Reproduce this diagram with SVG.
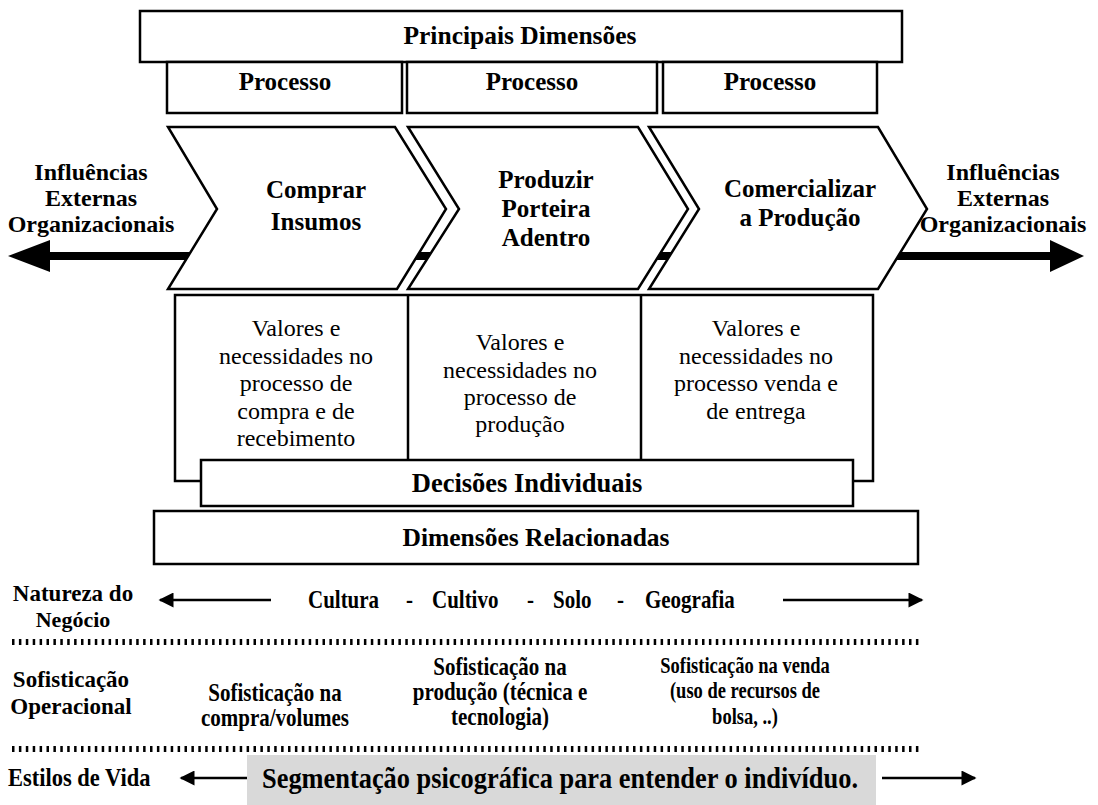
<svg xmlns="http://www.w3.org/2000/svg" width="1098" height="805" viewBox="0 0 1098 805">
<defs>
<style>
.box{fill:#fff;stroke:#000;stroke-width:2.5}
.hb{font-family:"Liberation Serif","Times New Roman",serif;font-weight:bold;fill:#000;text-anchor:middle}
.rg{font-family:"Liberation Serif","Times New Roman",serif;fill:#000;text-anchor:middle;font-size:24px}
.dot{stroke:#000;stroke-width:6;stroke-dasharray:2.5 4.4;fill:none}
.thin{stroke:#000;stroke-width:2.5;fill:none}
</style>
<marker id="ah" viewBox="0 0 10 10" refX="9" refY="5" markerWidth="7" markerHeight="6" orient="auto" markerUnits="strokeWidth">
<path d="M0,0 L10,5 L0,10 Z" fill="#000"/>
</marker>
</defs>
<rect width="1098" height="805" fill="#fff"/>

<g id="connectors">
<rect x="45" y="252" width="1010" height="8" fill="#000"/>
<path d="M50,240 L8,256 L50,272 Z" fill="#000"/>
<path d="M1050,240 L1084,256 L1050,272 Z" fill="#000"/>
<line class="thin" x1="271" y1="600" x2="160" y2="600" marker-end="url(#ah)"/>
<line class="thin" x1="783" y1="600" x2="922" y2="600" marker-end="url(#ah)"/>
<line class="thin" x1="248" y1="778" x2="181" y2="778" marker-end="url(#ah)"/>
<line class="thin" x1="882" y1="778" x2="975" y2="778" marker-end="url(#ah)"/>
</g>

<g id="principais">
<rect class="box" x="140" y="11" width="762" height="51"/>
<text class="hb" x="520" y="44" font-size="25.5">Principais Dimensões</text>
</g>
<g id="processo1">
<rect class="box" x="167" y="62" width="235" height="51"/>
<text class="hb" x="285" y="90" font-size="25">Processo</text>
</g>
<g id="processo2">
<rect class="box" x="407" y="62" width="250" height="51"/>
<text class="hb" x="532" y="90" font-size="25">Processo</text>
</g>
<g id="processo3">
<rect class="box" x="663" y="62" width="214" height="51"/>
<text class="hb" x="770" y="90" font-size="25">Processo</text>
</g>

<g id="chevron1">
<path class="box" d="M168,127 L395,127 L446,209 L397,289 L168,289 L217,209 Z"/>
<text class="hb" x="316" y="198" font-size="25">Comprar</text>
<text class="hb" x="316" y="230" font-size="25">Insumos</text>
</g>
<g id="chevron2">
<path class="box" d="M408,127 L638,127 L688,209 L638,289 L408,289 L459,209 Z"/>
<text class="hb" x="546" y="188" font-size="25">Produzir</text>
<text class="hb" x="546" y="217" font-size="25">Porteira</text>
<text class="hb" x="546" y="246" font-size="25">Adentro</text>
</g>
<g id="chevron3">
<path class="box" d="M649,127 L878,127 L927,209 L878,289 L649,289 L699,209 Z"/>
<text class="hb" x="800" y="197" font-size="25">Comercializar</text>
<text class="hb" x="800" y="226" font-size="25">a Produção</text>
</g>

<g id="influencias-esq">
<text class="hb" x="91" y="180" font-size="24">Influências</text>
<text class="hb" x="91" y="206" font-size="24">Externas</text>
<text class="hb" x="91" y="232" font-size="24">Organizacionais</text>
</g>
<g id="influencias-dir">
<text class="hb" x="1003" y="180" font-size="24">Influências</text>
<text class="hb" x="1003" y="206" font-size="24">Externas</text>
<text class="hb" x="1003" y="232" font-size="24">Organizacionais</text>
</g>

<g id="valores">
<rect class="box" x="175" y="295" width="698" height="186"/>
<line class="thin" x1="408" y1="295" x2="408" y2="462"/>
<line class="thin" x1="641" y1="295" x2="641" y2="462"/>
<text class="rg" x="296" y="336">Valores e</text>
<text class="rg" x="296" y="364">necessidades no</text>
<text class="rg" x="296" y="391">processo de</text>
<text class="rg" x="296" y="419">compra e de</text>
<text class="rg" x="296" y="446">recebimento</text>
<text class="rg" x="520" y="350">Valores e</text>
<text class="rg" x="520" y="378">necessidades no</text>
<text class="rg" x="520" y="405">processo de</text>
<text class="rg" x="520" y="432">produção</text>
<text class="rg" x="756" y="336">Valores e</text>
<text class="rg" x="756" y="364">necessidades no</text>
<text class="rg" x="756" y="391">processo venda e</text>
<text class="rg" x="756" y="419">de entrega</text>
</g>

<g id="decisoes">
<rect class="box" x="201" y="460" width="652" height="46"/>
<text class="hb" x="527" y="492" font-size="26.5">Decisões Individuais</text>
</g>
<g id="dimensoes-relacionadas">
<rect class="box" x="154" y="511" width="764" height="53"/>
<text class="hb" x="536" y="546" font-size="25.5">Dimensões Relacionadas</text>
</g>

<g id="natureza">
<text class="hb" font-size="23" x="73" y="601">Natureza do</text>
<text class="hb" font-size="22" x="73" y="627">Negócio</text>
<text class="hb" font-size="21" transform="translate(0,608) scale(1,1.15)" style="text-anchor:start"><tspan x="308">Cultura</tspan><tspan x="406">-</tspan><tspan x="432">Cultivo</tspan><tspan x="527">-</tspan><tspan x="553">Solo</tspan><tspan x="617">-</tspan><tspan x="645">Geografia</tspan></text>
</g>
<line class="dot" x1="12" y1="642" x2="922" y2="642"/>

<g id="sofisticacao">
<text class="hb" font-size="23" x="71" y="687">Sofisticação</text>
<text class="hb" font-size="23" x="71" y="714">Operacional</text>
<text class="hb" font-size="21" transform="translate(275,701) scale(1,1.15)">Sofisticação na</text>
<text class="hb" font-size="21" transform="translate(275,726) scale(1,1.15)">compra/volumes</text>
<text class="hb" font-size="21" transform="translate(500,675) scale(1,1.15)">Sofisticação na</text>
<text class="hb" font-size="21" transform="translate(500,700) scale(1,1.15)">produção (técnica e</text>
<text class="hb" font-size="21" transform="translate(500,725) scale(1,1.15)">tecnologia)</text>
<text class="hb" font-size="18.5" transform="translate(745,673) scale(1,1.2)">Sofisticação na venda</text>
<text class="hb" font-size="18.5" transform="translate(745,698) scale(1,1.2)">(uso de recursos de</text>
<text class="hb" font-size="18.5" transform="translate(745,724) scale(1,1.2)">bolsa, ..)</text>
</g>
<line class="dot" x1="12" y1="749" x2="922" y2="749"/>

<g id="estilos">
<text class="hb" font-size="22.5" transform="translate(8,786) scale(1,1.1)" style="text-anchor:start">Estilos de Vida</text>
<rect x="247" y="755" width="629" height="50" fill="#d9d9d9"/>
<text class="hb" font-size="26" transform="translate(560,788) scale(1,1.1)" textLength="596" lengthAdjust="spacingAndGlyphs">Segmentação psicográfica para entender o indivíduo.</text>
</g>
</svg>
